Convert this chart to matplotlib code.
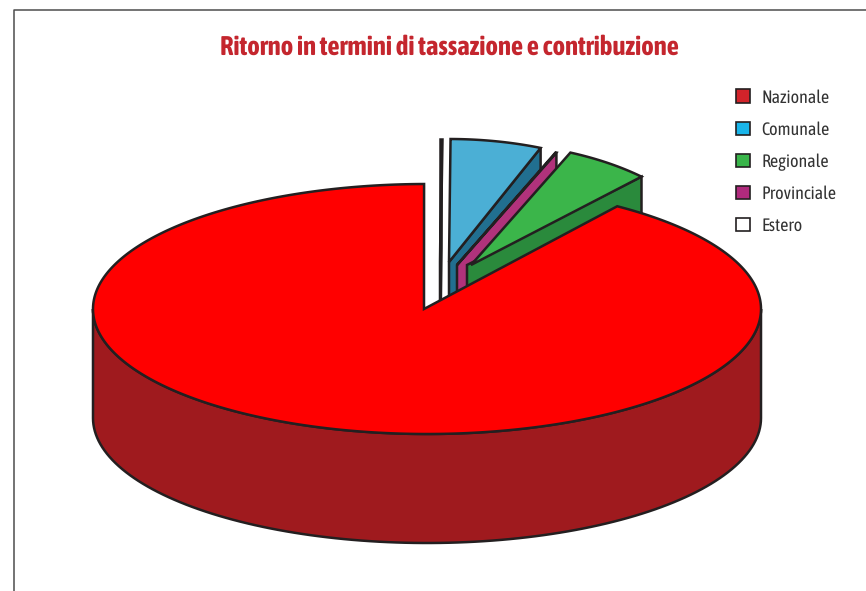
import matplotlib
matplotlib.use("Agg")
import matplotlib.pyplot as plt
from matplotlib.patches import Patch, Polygon
from matplotlib.lines import Line2D
import numpy as np

plt.rcParams["text.hinting"] = "none"

# shares (percent), clockwise from the top
labels = ["Nazionale", "Comunale", "Regionale", "Provinciale", "Estero"]
nazionale = 87.75
comunale = 6.0
regionale = 5.6
provinciale = 0.55
estero = 0.1

main_colors = ("#ff0000", "#9f1a1e")
legend_colors = ["#d2232a", "#19b5ea", "#39b54a", "#b02a7d", "#ffffff"]
title_color = "#c4262e"
line_color = "#231f20"
fonts = ["Asap Condensed", "Liberation Sans Narrow", "DejaVu Sans"]

# geometry in pixels
CX, CY = 427, 309
RX, RY = 334, 125
DEPTH = 109
RX2, RY2 = 245, 123   # the pulled-out slices are drawn on a narrower ellipse
CUT = 0.715           # maps the regional edge onto the big ellipse
LW = 1.8


def arc(cx, cy, rx, ry, t0, t1, n=120):
	t = np.radians(np.linspace(t0, t1, n))
	return np.column_stack([cx + rx * np.sin(t), cy - ry * np.cos(t)])


def slice3d(ax, apex, t0, t1, top, side, wall_dx=0):
	ax_, ay_ = apex
	pts = arc(ax_, ay_, RX2, RY2, t0, t1)
	end = pts[-1]
	# cut wall first, then the top face over it
	wall = [(ax_ + wall_dx, ay_), end, (end[0], end[1] + DEPTH), (ax_ + wall_dx, ay_ + DEPTH)]
	ax.add_patch(Polygon(wall, closed=True, fc=side, ec=line_color, lw=LW, joinstyle="miter"))
	face = np.vstack([[apex], pts])
	ax.add_patch(Polygon(face, closed=True, fc=top, ec=line_color, lw=LW, joinstyle="miter"))


fig = plt.figure(figsize=(8.66, 5.91), dpi=100)
ax = fig.add_axes([0, 0, 1, 1])
ax.set_xlim(0, 866)
ax.set_ylim(591, 0)
ax.axis("off")

# frame, open on the right and at the bottom
ax.add_line(Line2D([13.5, 13.5, 866], [591, 9.5, 9.5], color="#4d4d4d", lw=1.1))

# cumulative angles
t_est = estero * 3.6
t_com = t_est + comunale * 3.6
t_pro = t_com + provinciale * 3.6
t_reg = t_pro + regionale * 3.6

slice3d(ax, (440, 262), 0, t_est, "#ffffff", "#ffffff")
slice3d(ax, (449, 262), t_est, t_com, "#4bafd5", "#216f90")
# the provincial face is only a sharp tip in the picture, the wall shows the colour
slice3d(ax, (457, 265), t_pro - 0.2, t_pro, "#b1327b", "#b1327b")
slice3d(ax, (471, 265), t_pro, t_reg, "#3bb54a", "#2a8a3c", wall_dx=-4)

# big slice: its cut follows the same on-screen direction as the regional edge
t_start = np.degrees(np.arctan(np.tan(np.radians(t_reg)) * CUT))

front = arc(CX, CY, RX, RY, 90, 270)
wall = np.vstack([front, arc(CX, CY + DEPTH, RX, RY, 270, 90)])
ax.add_patch(Polygon(wall, closed=True, fc=main_colors[1], ec=line_color, lw=LW))
top = np.vstack([[(424, CY)], arc(CX, CY, RX, RY, t_start, 359.5, 400)])
ax.add_patch(Polygon(top, closed=True, fc=main_colors[0], ec=line_color, lw=LW, joinstyle="miter"))

ax.text(449, 47, "Ritorno in termini di tassazione e contribuzione", color=title_color,
	family=fonts, weight="bold", fontsize=19.3,
	ha="center", va="center")

handles = [Patch(fc=c, ec=line_color, lw=1.2) for c in legend_colors]
leg = ax.legend(handles, labels, loc="upper left", bbox_to_anchor=(736 / 866, 1 - 89 / 591),
	frameon=False, handlelength=0.78, handleheight=0.78, handletextpad=0.62,
	labelspacing=0.82, borderpad=0, borderaxespad=0,
	prop={"family": fonts, "size": 13})
for txt in leg.get_texts():
	txt.set_color("#333333")

fig.savefig("out.png", dpi=100)
